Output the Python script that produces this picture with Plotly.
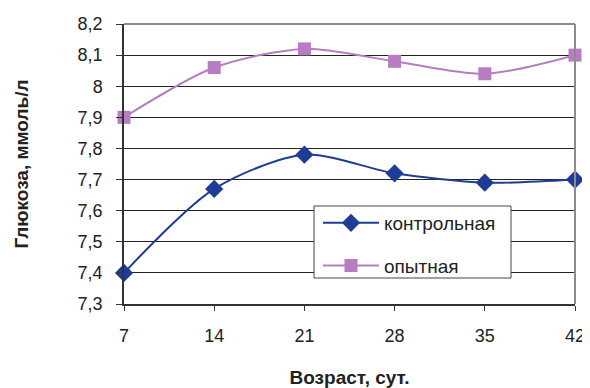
import plotly.graph_objects as go

days = [7, 14, 21, 28, 35, 42]
control = [7.40, 7.67, 7.78, 7.72, 7.69, 7.70]
experimental = [7.90, 8.06, 8.12, 8.08, 8.04, 8.10]
y_ticks = [7.3, 7.4, 7.5, 7.6, 7.7, 7.8, 7.9, 8.0, 8.1, 8.2]

font = "Liberation Sans, Arial, sans-serif"

fig = go.Figure()
fig.add_trace(go.Scatter(
    x=days, y=control, name="контрольная", mode="lines+markers",
    line=dict(color="#1F3C96", width=2, shape="spline", smoothing=0.8),
    marker=dict(symbol="diamond", size=14, color="#1F3C96"),
    legendgroup="a", cliponaxis=False))
fig.add_trace(go.Scatter(
    x=days, y=experimental, name="опытная", mode="lines+markers",
    line=dict(color="#B67DC0", width=2, shape="spline", smoothing=0.8),
    marker=dict(symbol="square", size=13, color="#B67DC0"),
    legendgroup="b", cliponaxis=False))

OFF = 8  # page body margin
W, H = 590, 388 - OFF
L, T = 124 - OFF, 24 - OFF
R = W - (575 - OFF)
B = H - (304 - OFF)

# legend box in plot-area fractions (plot spans page px 124..575, 24..304)
def fx(p):
    return (p - 124) / (575 - 124)

def fy(p):
    return (304 - p) / (304 - 24)

fig.add_shape(type="rect", xref="paper", yref="paper",
              x0=fx(314), x1=fx(511), y0=fy(278), y1=fy(206),
              line=dict(color="#444444", width=1), fillcolor="white", layer="above")
fig.add_shape(type="line", xref="paper", yref="paper", x0=0, x1=1, y0=1, y1=1,
              line=dict(color="#8C8C8C", width=2))
fig.add_shape(type="line", xref="paper", yref="paper", x0=1, x1=1, y0=0, y1=1,
              line=dict(color="#8C8C8C", width=2))

fig.update_layout(
    width=W, height=H,
    margin=dict(l=L, r=R, t=T, b=B, autoexpand=False),
    paper_bgcolor="white", plot_bgcolor="white",
    separators=", ",
    font=dict(family=font, size=18, color="#222222"),
    showlegend=True,
    legend=dict(x=fx(318), y=fy(204), xanchor="left", yanchor="top",
                bgcolor="rgba(0,0,0,0)", borderwidth=0,
                traceorder="grouped", tracegroupgap=15, itemwidth=56,
                font=dict(family=font, size=19, color="#222222")),
    xaxis=dict(
        range=[7, 42], tickvals=days, ticktext=[str(d) for d in days],
        showgrid=False, zeroline=False, automargin=False,
        showline=True, linecolor="#333333", linewidth=1.5, mirror=False,
        ticks="outside", ticklen=5, tickcolor="#333333",
        tickfont=dict(size=18), ticklabelstandoff=10, ticklabeloverflow="allow",
        title=dict(text="<b>Возраст, сут.</b>", font=dict(size=19), standoff=28),
    ),
    yaxis=dict(
        range=[7.3, 8.2], tickvals=y_ticks, automargin=False,
        showgrid=True, gridcolor="#222222", gridwidth=1,
        zeroline=False, showline=True, linecolor="#333333", linewidth=1.5,
        ticks="outside", ticklen=6, tickcolor="#333333",
        tickfont=dict(size=18), ticklabelstandoff=10, ticklabeloverflow="allow",
        title=dict(text="<b>Глюкоза, ммоль/л</b>", font=dict(size=19), standoff=44),
    ),
)

fig.write_html("out.html")
